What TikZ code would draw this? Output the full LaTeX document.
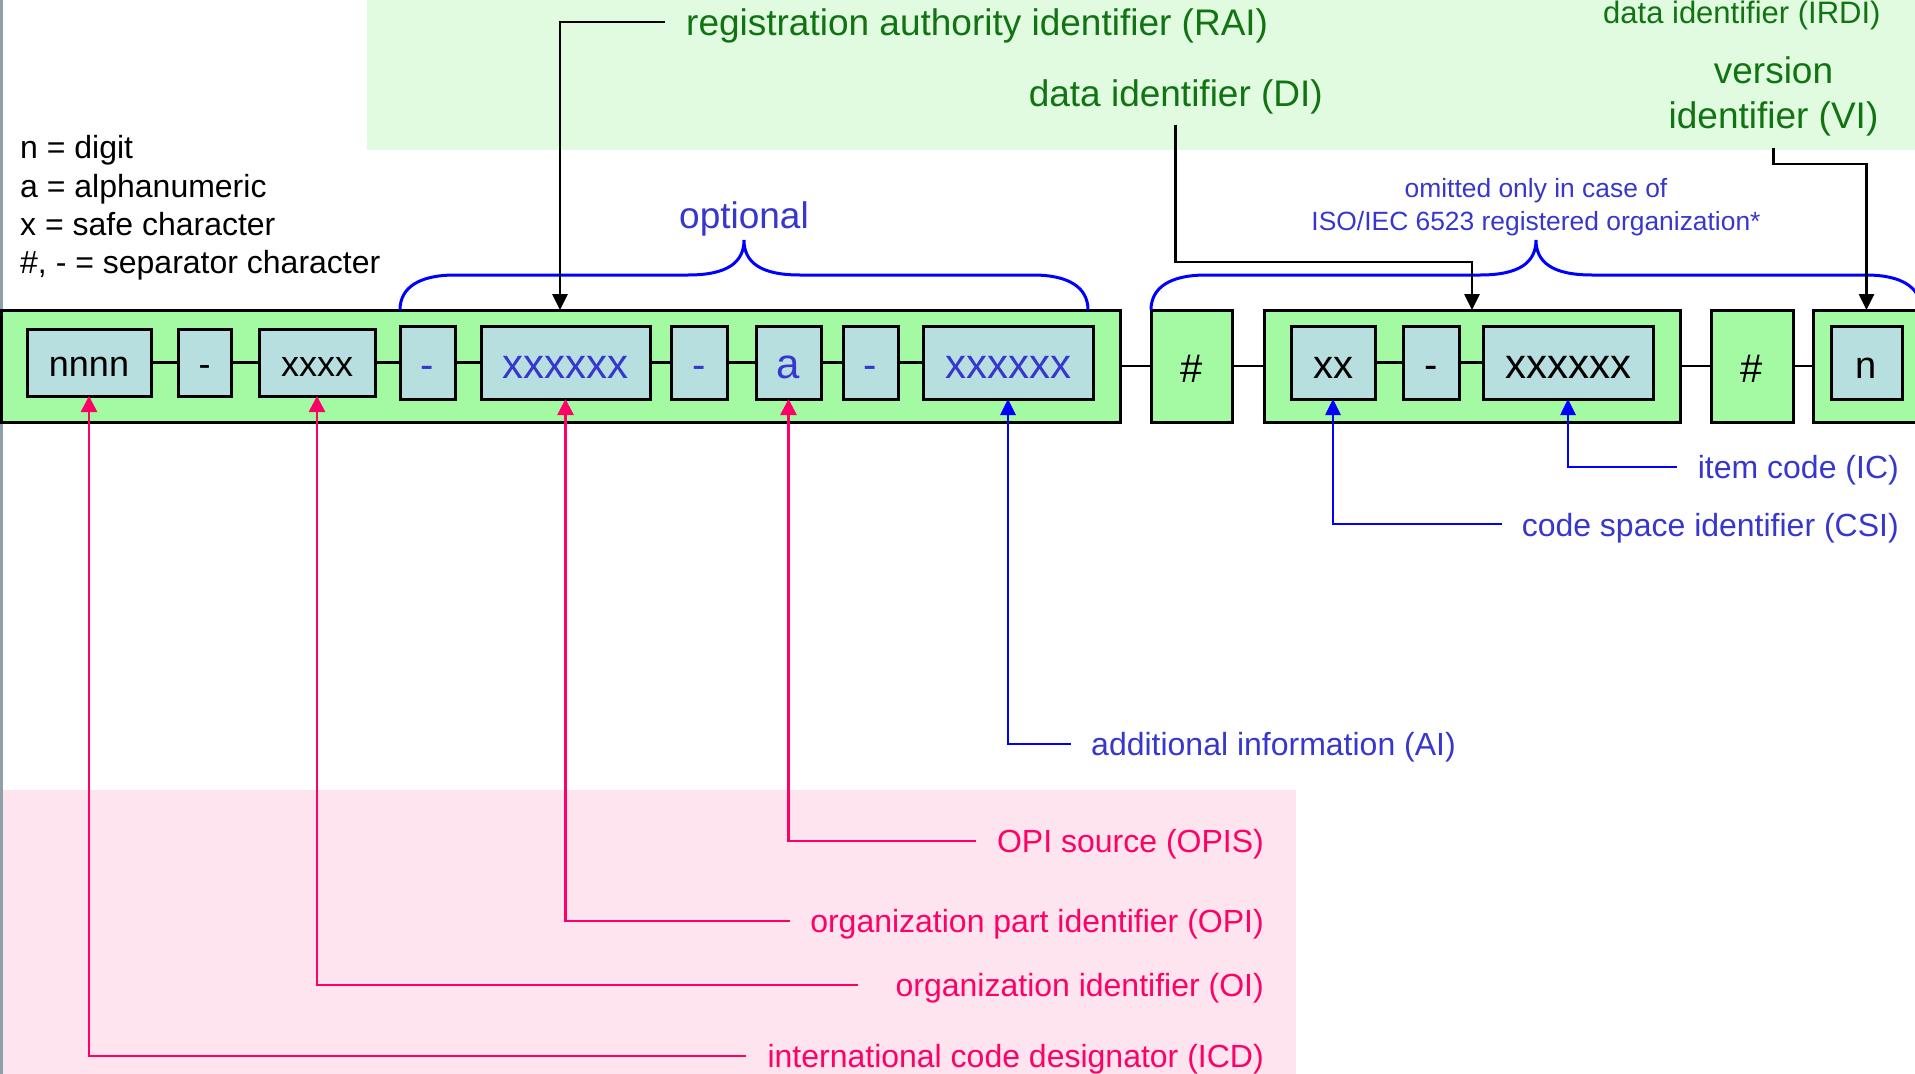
\documentclass[tikz,border=0pt]{standalone}
\usepackage{fontspec}
\setmainfont{Liberation Sans}
\usetikzlibrary{arrows.meta}
\definecolor{bandG}{RGB}{225,251,225}
\definecolor{bandP}{RGB}{253,228,239}
\definecolor{gboxc}{RGB}{163,250,163}
\definecolor{iboxc}{RGB}{184,223,224}
\definecolor{txtG}{RGB}{18,115,18}
\definecolor{txtB}{RGB}{55,55,205}
\definecolor{lineB}{RGB}{0,0,255}
\definecolor{pinkc}{RGB}{255,0,102}
\definecolor{edgec}{RGB}{140,160,165}
\begin{document}
\begin{tikzpicture}[x=1pt,y=-1pt,
  gbox/.style={draw=black, fill=gboxc, line width=3pt, inner sep=0pt, outer sep=0pt, anchor=north west, minimum height=112pt, text height=32pt, text depth=0pt, font=\fontsize{40}{46}\selectfont},
  ibox/.style={draw=black, fill=iboxc, line width=3pt, inner sep=0pt, outer sep=0pt, anchor=north west, minimum height=73pt, text height=32pt, text depth=0pt, font=\fontsize{42}{48}\selectfont},
  iboxs/.style={ibox, minimum height=67pt, text height=28pt, font=\fontsize{36}{42}\selectfont},
  link/.style={draw=black, line width=2.7pt},
  arrK/.style={draw=black, line width=2.7pt, -{Triangle[length=16pt,width=15pt]}},
  arrP/.style={draw=pinkc, line width=2.7pt, -{Triangle[length=16pt,width=16pt]}},
  arrB/.style={draw=lineB, line width=2.7pt, -{Triangle[length=16pt,width=15pt]}},
  brace/.style={draw=lineB, line width=3pt},
  lblS/.style={inner sep=0pt, font=\fontsize{32}{38.3}\selectfont},
  lblL/.style={inner sep=0pt, font=\fontsize{37}{45}\selectfont},
]
\useasboundingbox (0,0) rectangle (1915,1074);
\clip (0,0) rectangle (1915,1074);
% background bands
\fill[bandG] (367,0) rectangle (1915,150);
\fill[bandP] (0,790) rectangle (1296,1074);
\draw[edgec, line width=3pt] (1,0) -- (1,1074);

% big boxes
\node[gbox, minimum width=1119pt] (G1) at (1,310) {};
\node[gbox, minimum width=81pt] (H1) at (1151,310) {\#};
\node[gbox, minimum width=416pt] (G3) at (1264,310) {};
\node[gbox, minimum width=82pt] (H2) at (1711,310) {\#};
\node[gbox, minimum width=150pt] (G4) at (1813,310) {};

% inner boxes
\node[iboxs, minimum width=124pt] (b1) at (27,329) {nnnn};
\node[iboxs, minimum width=53pt] (b2) at (178,329) {-};
\node[iboxs, minimum width=116pt] (b3) at (259,329) {xxxx};
\node[ibox, minimum width=55pt, text=txtB, font=\fontsize{40}{46}\selectfont] (b4) at (400,326) {-};
\node[ibox, minimum width=169pt, text=txtB] (b5) at (481,326) {xxxxxx};
\node[ibox, minimum width=56pt, text=txtB, font=\fontsize{40}{46}\selectfont] (b6) at (671,326) {-};
\node[ibox, minimum width=65pt, text=txtB, font=\fontsize{42}{46}\selectfont] (b7) at (756,326) {a};
\node[ibox, minimum width=55pt, text=txtB, font=\fontsize{40}{46}\selectfont] (b8) at (843,326) {-};
\node[ibox, minimum width=170pt, text=txtB] (b9) at (923,326) {xxxxxx};
\node[ibox, minimum width=84pt, font=\fontsize{40}{46}\selectfont] (c1) at (1291,326) {xx};
\node[ibox, minimum width=56pt, font=\fontsize{40}{46}\selectfont] (c2) at (1403,326) {-};
\node[ibox, minimum width=170pt] (c3) at (1483,326) {xxxxxx};
\node[ibox, minimum width=71pt, font=\fontsize{38}{46}\selectfont] (d1) at (1831,326) {n};

% links
\draw[link] (b1) -- (b2);
\draw[link] (b2) -- (b3);
\draw[link] (b3) -- (b4);
\draw[link] (b4) -- (b5);
\draw[link] (b5) -- (b6);
\draw[link] (b6) -- (b7);
\draw[link] (b7) -- (b8);
\draw[link] (b8) -- (b9);
\draw[link] (c1) -- (c2);
\draw[link] (c2) -- (c3);
\draw[link] (G1) -- (H1);
\draw[link] (H1) -- (G3);
\draw[link] (G3) -- (H2);
\draw[link] (H2) -- (G4);

% braces
\draw[brace] (400,310) .. controls (400,287) and (420,275) .. (455,275) -- (688,275)
  .. controls (728,275) and (744,262) .. (744,240)
  .. controls (744,262) and (760,275) .. (800,275) -- (1033,275)
  .. controls (1068,275) and (1088,287) .. (1088,310);
\draw[brace] (1151,310) .. controls (1151,287) and (1171,275) .. (1206,275) -- (1480,275)
  .. controls (1520,275) and (1536,262) .. (1536,240)
  .. controls (1536,262) and (1552,275) .. (1592,275) -- (1866,275)
  .. controls (1901,275) and (1921,287) .. (1921,310);

% legend
\node[lblS, anchor=base west] (leg1) at (20,158) {n = digit};
\node[lblS, anchor=base west] (leg2) at (20,197) {a = alphanumeric};
\node[lblS, anchor=base west] (leg3) at (20,235) {x = safe character};
\node[lblS, anchor=base west] (leg4) at (20,273) {\#, - = separator character};

% green labels
\node[lblL, text=txtG, anchor=base west] (rai) at (686,35) {registration authority identifier (RAI)};
\node[lblL, text=txtG, anchor=base west] (di) at (1028.6,106) {data identifier (DI)};
\node[inner sep=0pt, font=\fontsize{31}{36}\selectfont, text=txtG, anchor=base west] (irdi) at (1603,23.5) {data identifier (IRDI)};
\node[lblL, text=txtG, anchor=south, align=center] (vi) at (1773.5,136.5) {version\\identifier (VI)};

% blue labels
\node[lblL, text=txtB, anchor=base] (opt) at (744,228) {optional};
\node[inner sep=0pt, text=txtB, anchor=south, align=center, font=\fontsize{26.4}{33}\selectfont] (omit) at (1536,236.5) {omitted only in case of\\ISO/IEC 6523 registered organization*};
\node[lblS, text=txtB, anchor=base west] (ai) at (1091,755) {additional information (AI)};
\node[lblS, text=txtB, anchor=base east] (ic) at (1899,478) {item code (IC)};
\node[lblS, text=txtB, anchor=base east] (csi) at (1899,536) {code space identifier (CSI)};

% pink labels
\node[lblS, text=pinkc, anchor=base east] (opis) at (1264,852) {OPI source (OPIS)};
\node[lblS, text=pinkc, anchor=base east] (opi) at (1264,932) {organization part identifier (OPI)};
\node[lblS, text=pinkc, anchor=base east] (oi) at (1264,996) {organization identifier (OI)};
\node[lblS, text=pinkc, anchor=base east] (icd) at (1264,1067) {international code designator (ICD)};

% black arrows
\draw[arrK] ([xshift=-21pt,yshift=13pt]rai.base west) -| ([xshift=559pt]G1.north west);
\draw[arrK] ([yshift=-11pt]di.south) |- ([xshift=208pt,yshift=48pt]G3.north west) -- ([xshift=208pt]G3.north west);
\draw[arrK] ([yshift=-11pt]vi.south) |- ([xshift=53.5pt,yshift=146pt]G4.north west) -- ([xshift=53.5pt]G4.north west);

% pink arrows
\draw[arrP] ([xshift=-21pt,yshift=11pt]opis.base west) -| (b7.south);
\draw[arrP] ([xshift=-20pt,yshift=11pt]opi.base west) -| (b5.south);
\draw[arrP] ([xshift=-37pt,yshift=11pt]oi.base west) -| (b3.south);
\draw[arrP] ([xshift=-21pt,yshift=11pt]icd.base west) -| (b1.south);

% blue arrows
\draw[arrB] ([xshift=-20pt,yshift=11pt]ai.base west) -| (b9.south);
\draw[arrB] ([xshift=-21pt,yshift=11pt]ic.base west) -| (c3.south);
\draw[arrB] ([xshift=-20pt,yshift=12pt]csi.base west) -| (c1.south);
\end{tikzpicture}
\end{document}
